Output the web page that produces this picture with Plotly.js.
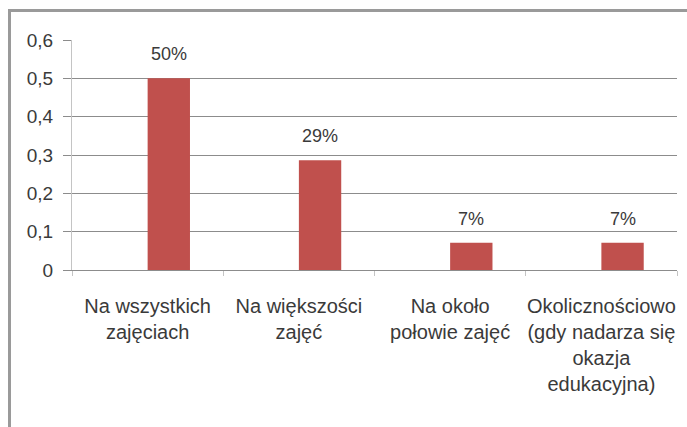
<!DOCTYPE html>
<html>
<head>
<meta charset="utf-8">
<script src="https://cdn.plot.ly/plotly-3.0.1.min.js"></script>
<style>
  body { margin: 0; background: #fff; }
  #plot { width: 687px; height: 427px; }
  #frame {
    position: absolute; left: 8px; top: 9px; width: 679px; height: 418px;
    border-top: 3px solid #9a9a9a; border-left: 3px solid #9a9a9a;
    pointer-events: none;
  }
</style>
</head>
<body>
<div id="plot"></div>
<div id="frame"></div>
<script>
// categories (x axis)
var categories = [
    "Na wszystkich<br>zajęciach",
    "Na większości<br>zajęć",
    "Na około<br>połowie zajęć",
    "Okolicznościowo<br>(gdy nadarza się<br>okazja<br>edukacyjna)"
];

// share of answers
var values = [0.5, 0.286, 0.071, 0.071];

// data labels shown above the bars
var labels = ["50%", "29%", "7%", "7%"];

var textFont = "Liberation Sans, Arial, sans-serif";
var barWidth = 0.28;

var trace1 = {
    x: categories,
    y: values,
    type: "bar",
    width: barWidth,
    offset: 0,
    marker: {color: "#c0504d"},
    hoverinfo: "none"
};

// labels sit above the middle of every bar
var notes = values.map(function (v, i) {
    return {
        x: i + barWidth / 2,
        y: v,
        xref: "x",
        yref: "y",
        text: labels[i],
        showarrow: false,
        yanchor: "middle",
        yshift: 24,
        font: {family: textFont, size: 18, color: "#3a3a3a"}
    };
});

var layout = {
    width: 687,
    height: 427,
    margin: {l: 72, r: 10, t: 40, b: 157},
    paper_bgcolor: "#fff",
    plot_bgcolor: "#fff",
    separators: ", ",
    showlegend: false,
    font: {family: textFont, size: 19, color: "#3a3a3a"},
    xaxis: {
        type: "category",
        tickson: "boundaries",
        tickangle: 0,
        ticks: "outside",
        ticklen: 5,
        tickcolor: "#c4c4c4",
        showline: true,
        linecolor: "#8c8c8c",
        linewidth: 1,
        showgrid: false,
        ticklabelstandoff: 18,
        tickfont: {family: textFont, size: 20, color: "#3a3a3a"}
    },
    yaxis: {
        range: [0, 0.6],
        dtick: 0.1,
        tick0: 0,
        ticks: "outside",
        ticklen: 8,
        tickcolor: "#8c8c8c",
        gridcolor: "#8c8c8c",
        showline: true,
        linecolor: "#c4c4c4",
        zeroline: false,
        ticklabelstandoff: 6,
        tickfont: {family: textFont, size: 19, color: "#3a3a3a"}
    },
    annotations: notes
};

Plotly.newPlot("plot", [trace1], layout, {staticPlot: true});
</script>
</body>
</html>
